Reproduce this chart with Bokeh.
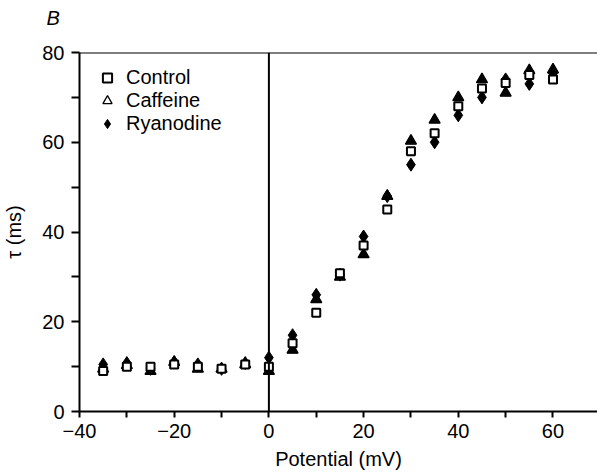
from bokeh.plotting import figure
from bokeh.models import ColumnDataSource, FixedTicker, Span, Legend, LegendItem, Title
from bokeh.embed import file_html
from bokeh.resources import INLINE

# Time constant (ms) versus membrane potential (mV)
potential = [-35, -30, -25, -20, -15, -10, -5, 0, 5, 10, 15, 20, 25, 30, 35, 40, 45, 50, 55, 60]
control = [9.0, 10.0, 10.0, 10.5, 10.0, 9.5, 10.5, 10.0, 15.2, 22.0, 30.8, 37.0, 45.0,
           58.0, 62.0, 68.0, 72.0, 73.2, 75.0, 74.0]
caffeine = [9.5, 10.3, 9.0, 11.0, 9.5, 9.5, 10.5, 9.0, 13.7, 25.0, 30.0, 35.0, 48.0,
            60.3, 65.0, 70.0, 74.0, 71.0, 76.0, 76.2]
ryanodine = [10.5, 10.8, 9.5, 11.0, 10.5, 9.5, 10.8, 12.0, 17.0, 26.0, 30.5, 39.0, 48.0,
             55.0, 60.0, 66.0, 70.0, 74.0, 73.0, 75.3]

x_major = [-40, -20, 0, 20, 40, 60]
x_minor = [-30, -10, 10, 30, 50, 70]
y_major = [0, 20, 40, 60, 80]
y_minor = [10, 30, 50, 70]

FONT = "Liberation Sans"

src = ColumnDataSource(dict(x=potential, control=control, caffeine=caffeine, ryanodine=ryanodine))

p = figure(width=597, height=472, x_range=(-40, 69.4), y_range=(0, 80),
           output_backend="svg", toolbar_location=None,
           min_border_left=77, min_border_right=0, min_border_top=52, min_border_bottom=61)
p.xgrid.visible = False
p.ygrid.visible = False
p.outline_line_color = None
p.background_fill_color = "white"
p.border_fill_color = "white"

# panel letter
p.title.text = "B"
p.title.text_font = FONT
p.title.text_font_style = "italic"
p.title.text_font_size = "20px"
p.title.text_color = "black"
p.title.align = "left"
p.title.vertical_align = "top"
p.title.offset = -33
p.title.standoff = 0
# thin spacer between the letter and the frame
p.add_layout(Title(text=" ", text_font_size="2px", standoff=18), "above")

for ax, major, minor in ((p.xaxis[0], x_major, x_minor), (p.yaxis[0], y_major, y_minor)):
    ax.ticker = FixedTicker(ticks=major, minor_ticks=minor)
    ax.axis_line_width = 2
    ax.major_tick_line_width = 2
    ax.minor_tick_line_width = 2
    ax.major_tick_in = 0
    ax.minor_tick_in = 0
    ax.major_label_text_font = FONT
    ax.major_label_text_font_size = "20px"
    ax.major_label_text_color = "black"
    ax.axis_label_text_font = FONT
    ax.axis_label_text_font_size = "20px"
    ax.axis_label_text_font_style = "normal"
    ax.axis_label_text_color = "black"
    ax.axis_line_color = "black"
    ax.major_tick_line_color = "black"
    ax.minor_tick_line_color = "black"

p.xaxis[0].major_tick_out = 6
p.xaxis[0].minor_tick_out = 6
p.xaxis[0].major_label_standoff = 6
p.xaxis[0].axis_label = "Potential (mV)"
p.xaxis[0].axis_label_standoff = 7
p.xaxis[0].major_label_overrides = {-40: "\u221240", -20: "\u221220"}

p.yaxis[0].major_tick_out = 8
p.yaxis[0].minor_tick_out = 8
p.yaxis[0].major_label_standoff = 7
p.yaxis[0].axis_label = "\u03c4 (ms)"
p.yaxis[0].axis_label_standoff = 14

# frame top and the zero-potential line
p.add_layout(Span(location=80, dimension="width", line_color="black", line_width=2))
p.add_layout(Span(location=0, dimension="height", line_color="black", line_width=2))

r_caf = p.scatter("x", "caffeine", source=src, marker="triangle", size=10,
                  fill_color="black", line_color="black", line_width=1)
# outline of the same triangles; used as the open legend key
r_caf_key = p.scatter("x", "caffeine", source=src, marker="triangle", size=11,
                      fill_color=None, line_color="black", line_width=1.3)
r_rya = p.scatter("x", "ryanodine", source=src, marker="diamond", size=13,
                  fill_color="black", line_color="black", line_width=1)
r_con = p.scatter("x", "control", source=src, marker="square", size=8,
                  fill_color="white", line_color="black", line_width=2)

legend = Legend(items=[LegendItem(label="Control", renderers=[r_con]),
                       LegendItem(label="Caffeine", renderers=[r_caf_key]),
                       LegendItem(label="Ryanodine", renderers=[r_rya])],
                location="top_left", margin=14, padding=10,
                glyph_width=28, glyph_height=23, label_height=23, spacing=0,
                label_standoff=5, border_line_color=None, background_fill_alpha=0,
                label_text_font=FONT, label_text_font_size="20px",
                label_text_color="black")
p.add_layout(legend)

open("out.html", "w").write(file_html(p, INLINE))
